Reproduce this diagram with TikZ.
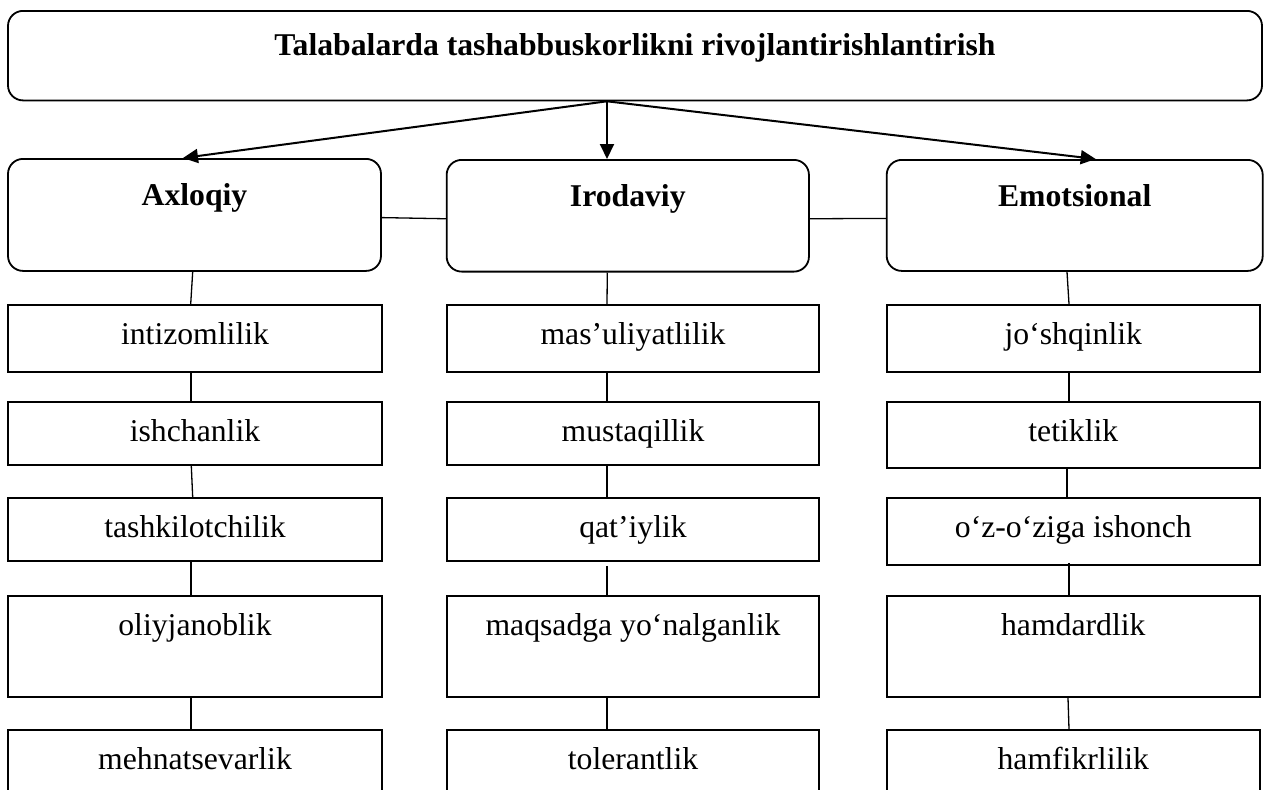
\documentclass[tikz,border=0pt]{standalone}
\usepackage{fontspec}
\setmainfont{Liberation Serif}
\usetikzlibrary{arrows.meta}
\begin{document}
\begin{tikzpicture}[x=1pt,y=-1pt,
  txt/.style={font=\fontsize{31.7pt}{38pt}\selectfont},
  boxbase/.style={draw, line width=1.8pt, inner sep=0pt, anchor=north, txt},
  topbox/.style={boxbase, rounded corners=15pt, font=\fontsize{31.7pt}{38pt}\selectfont\bfseries},
  catbox/.style={boxbase, rounded corners=15pt, font=\fontsize{31.7pt}{38pt}\selectfont\bfseries, text height=47pt},
  subbox/.style={boxbase, minimum width=373.3pt, text height=39.5pt},
  link/.style={line width=1.3pt},
  arr/.style={line width=2pt, -{Triangle[length=15pt,width=14pt]}}]
\useasboundingbox (0,0) rectangle (1267,790);
\clip (0,0) rectangle (1267,790);
% top
\node[topbox, minimum width=1254pt, text height=45pt, text depth=44.5pt] (top) at (635,10) {Talabalarda tashabbuskorlikni rivojlantirishlantirish};
% categories
\node[catbox, minimum width=373pt, text depth=65pt] (ax) at (194.5,158) {Axloqiy};
\node[catbox, minimum width=362.3pt, text depth=64.7pt] (ir) at (627.8,159) {Irodaviy};
\node[catbox, minimum width=376pt, text depth=64pt] (em) at (1074.7,159) {Emotsional};
% arrows
\draw[arr] ([xshift=-28pt]top.south) -- ([xshift=-11.5pt]ax.north);
\draw[arr] ([xshift=-28pt]top.south) -- ([xshift=-20.8pt]ir.north);
\draw[arr] ([xshift=-28pt]top.south) -- ([xshift=21pt]em.north);
% side links
\draw[link] ([yshift=-2.7pt]ax.east) -- ([yshift=-3pt]ir.west);
\draw[link] ([yshift=-3pt]ir.east) -- ([yshift=-3pt]em.west);
% left column
\node[subbox, text depth=27.5pt] (a1) at (195,304) {intizomlilik};
\node[subbox, text depth=23.8pt] (a2) at (195,400.7) {ishchanlik};
\node[subbox, text depth=23.2pt] (a3) at (195,497.3) {tashkilotchilik};
\node[subbox, text depth=61.2pt] (a4) at (195,595.3) {oliyjanoblik};
\node[subbox, text depth=40pt] (a5) at (195,729) {mehnatsevarlik};
% middle column
\node[subbox, minimum width=372.6pt, text depth=27.5pt] (b1) at (633,304) {mas’uliyatlilik};
\node[subbox, minimum width=372.6pt, text depth=23.8pt] (b2) at (633,400.7) {mustaqillik};
\node[subbox, minimum width=372.6pt, text depth=23.2pt] (b3) at (633,497.3) {qat’iylik};
\node[subbox, minimum width=372.6pt, text depth=61.2pt] (b4) at (633,595.3) {maqsadga yo‘nalganlik};
\node[subbox, minimum width=372.6pt, text depth=40pt] (b5) at (633,729) {tolerantlik};
% right column
\node[subbox, text depth=27.5pt] (c1) at (1073.3,304) {jo‘shqinlik};
\node[subbox, text depth=27.1pt] (c2) at (1073.3,400.7) {tetiklik};
\node[subbox, text depth=27.2pt] (c3) at (1073.3,497.3) {o‘z-o‘ziga ishonch};
\node[subbox, text depth=61.2pt] (c4) at (1073.3,595.3) {hamdardlik};
\node[subbox, text depth=40pt] (c5) at (1073.3,729) {hamfikrlilik};
% left links
\draw[link] ([xshift=-1.8pt]ax.south) -- ([xshift=-4.3pt]a1.north);
\draw[link] ([xshift=-4pt]a1.south) -- ([xshift=-4pt]a2.north);
\draw[link] ([xshift=-3.7pt]a2.south) -- ([xshift=-2.3pt]a3.north);
\draw[link] ([xshift=-4pt]a3.south) -- ([xshift=-4pt]a4.north);
\draw[link] ([xshift=-4pt]a4.south) -- ([xshift=-4pt]a5.north);
% middle links
\draw[link] ([xshift=-20.5pt]ir.south) -- ([xshift=-26pt]b1.north);
\draw[link] ([xshift=-26pt]b1.south) -- ([xshift=-26pt]b2.north);
\draw[link] ([xshift=-26pt]b2.south) -- ([xshift=-26pt]b3.north);
\draw[link] ([xshift=-26pt,yshift=-4pt]b3.south) -- ([xshift=-26pt]b4.north);
\draw[link] ([xshift=-26pt]b4.south) -- ([xshift=-26pt]b5.north);
% right links
\draw[link] ([xshift=-7.7pt]em.south) -- ([xshift=-4.3pt]c1.north);
\draw[link] ([xshift=-4.3pt]c1.south) -- ([xshift=-4.3pt]c2.north);
\draw[link] ([xshift=-6.3pt]c2.south) -- ([xshift=-6.3pt]c3.north);
\draw[link] ([xshift=-4.3pt,yshift=3pt]c3.south) -- ([xshift=-4.3pt]c4.north);
\draw[link] ([xshift=-5.3pt]c4.south) -- ([xshift=-4.3pt]c5.north);
\end{tikzpicture}
\end{document}
